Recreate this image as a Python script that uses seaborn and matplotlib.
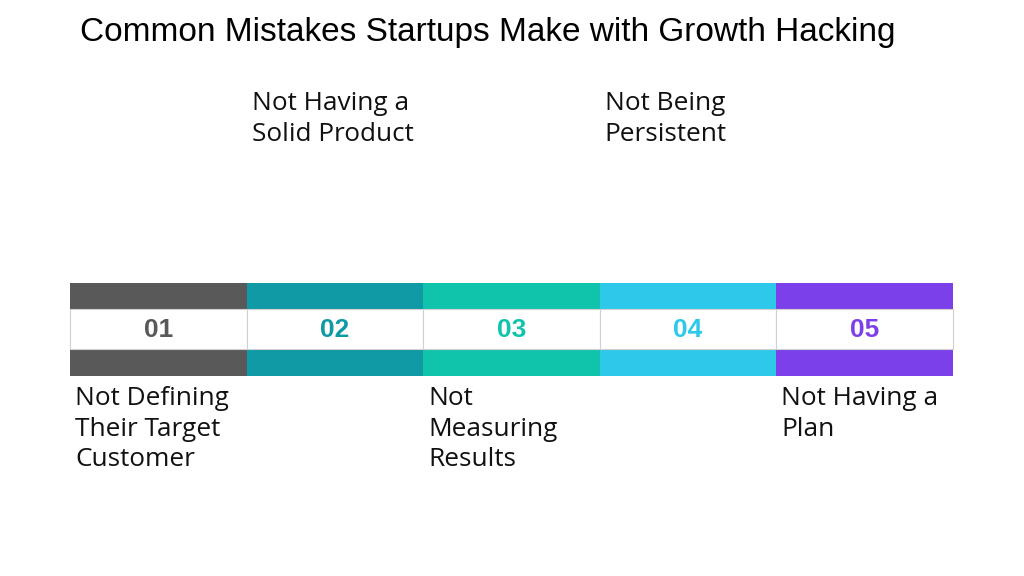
import matplotlib
matplotlib.use("Agg")
import matplotlib.pyplot as plt
import seaborn as sns

numbers = ["01", "02", "03", "04", "05"]
labels = ["Not Defining\nTheir Target\nCustomer", "Not Having a\nSolid Product",
          "Not\nMeasuring\nResults", "Not Being\nPersistent", "Not Having a\nPlan"]
colors = ["#595959", "#0f9aa5", "#10c4ab", "#2ec9ea", "#7c40ea"]
title = "Common Mistakes Startups Make with Growth Hacking"

sns.set_theme(style="white")
fig = plt.figure(figsize=(10.24, 5.76), dpi=100)
ax = fig.add_axes([0, 0, 1, 1])
ax.set_xlim(0, 1024); ax.set_ylim(576, 0); ax.axis("off")

x0, w = 70, 176.6
lefts = [x0 + i * w for i in range(len(numbers))]
ax.bar(lefts, 93, width=w, bottom=283, align="edge", color=colors, edgecolor="none")
ax.bar(lefts, 40, width=w, bottom=309, align="edge", color="white", edgecolor="#d0d0d0", linewidth=0.8)
for i, (n, c, l) in enumerate(zip(numbers, colors, labels)):
    cx = lefts[i] + w / 2
    ax.text(cx, 330, n, ha="center", va="center", fontsize=19, fontweight="bold",
            color=c, family="Liberation Sans")
    y = 386 if i % 2 == 0 else 91
    ax.text(lefts[i] + 5, y, l, ha="left", va="top", fontsize=18.8,
            family="Open Sans", color="#111111", linespacing=1.3)
ax.text(80, 32, title, ha="left", va="center", fontsize=24, family="Liberation Sans", color="black")
fig.savefig("out.png", dpi=100)
